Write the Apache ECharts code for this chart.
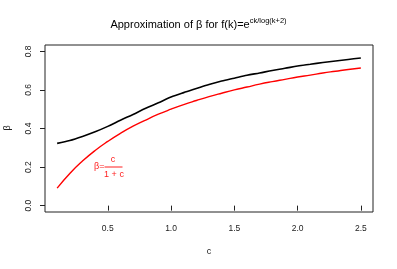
<!DOCTYPE html>
<html><head><meta charset="utf-8">
<script src="https://cdn.jsdelivr.net/npm/echarts@6/dist/echarts.min.js"></script>
<style>html,body{margin:0;padding:0;background:#fff}#c{width:397px;height:269px}</style>
</head><body><div id="c"></div>
<script>
const cValues = [0.1,0.2,0.3,0.4,0.5,0.6,0.7,0.8,0.9,1.0,1.1,1.2,1.3,1.4,1.5,1.6,1.7,1.8,1.9,2.0,2.1,2.2,2.3,2.4,2.5];
const betaSim = [0.323,0.338,0.359,0.383,0.411,0.443,0.473,0.505,0.533,0.563,0.586,0.607,0.628,0.646,0.661,0.676,0.688,0.701,0.712,0.724,0.733,0.742,0.750,0.758,0.766];
const betaApprox = [0.091,0.167,0.231,0.286,0.333,0.375,0.412,0.444,0.474,0.500,0.524,0.545,0.565,0.583,0.600,0.615,0.630,0.643,0.655,0.667,0.677,0.688,0.697,0.706,0.714];
const xTicks = [0.5,1.0,1.5,2.0,2.5];
const yTicks = [0.0,0.2,0.4,0.6,0.8];

const FONT = '"Liberation Sans", Arial, sans-serif';
const chart = echarts.init(document.getElementById('c'), null, {renderer:'canvas'});
const pair = (xs, ys) => xs.map((x,i)=>[x, ys[i]]);
chart.setOption({
  animation:false,
  backgroundColor:'#fff',
  title:{
    text:'{a|Approximation of β for f(k)=e}{s|ck/log(k+2)}',
    left:'center', top:10,
    textStyle:{
      fontWeight:'normal',
      rich:{
        a:{fontFamily:FONT, fontSize:11, fontWeight:'normal', color:'#000', verticalAlign:'bottom', lineHeight:15},
        s:{fontFamily:FONT, fontSize:7.5, fontWeight:'normal', color:'#000', verticalAlign:'bottom', lineHeight:15, padding:[0,0,5,0]}
      }
    }
  },
  grid:{left:45, top:45, width:328, height:167, show:true, borderColor:'#222', borderWidth:1, containLabel:false},
  xAxis:{
    type:'value', min:0.004, max:2.596,
    name:'c', nameLocation:'middle', nameGap:35,
    nameTextStyle:{fontFamily:FONT, fontSize:9, color:'#222'},
    axisLine:{show:false},
    splitLine:{show:false},
    axisTick:{show:true, length:5, inside:false, customValues:xTicks, lineStyle:{color:'#222'}},
    axisLabel:{customValues:xTicks, fontFamily:FONT, fontSize:8.5, color:'#222', margin:12,
      formatter:v=>v.toFixed(1)}
  },
  yAxis:{
    type:'value', min:-0.033, max:0.833,
    axisLine:{show:false},
    splitLine:{show:false},
    axisTick:{show:true, length:5, customValues:yTicks, lineStyle:{color:'#222'}},
    axisLabel:{customValues:yTicks, rotate:90, fontFamily:FONT, fontSize:8.5, color:'#222', margin:12,
      formatter:v=>v.toFixed(1)}
  },
  series:[
    {type:'line', data:pair(cValues, betaSim), showSymbol:false, smooth:0.3,
     lineStyle:{color:'#000', width:1.6}},
    {type:'line', data:pair(cValues, betaApprox), showSymbol:false, smooth:true,
     lineStyle:{color:'#ff0000', width:1.4}}
  ],
  graphic:[
    {type:'text', x:8, y:128, rotation:Math.PI/2, style:{text:'β', fill:'#222', font:'9px '+FONT, textAlign:'center', textVerticalAlign:'middle'}},
    {type:'text', x:94, y:167, style:{text:'β=', fill:'#ff2020', font:'9px '+FONT, textAlign:'left', textVerticalAlign:'middle'}},
    {type:'line', shape:{x1:104.5, y1:167, x2:122.5, y2:167}, style:{stroke:'#ff2020', lineWidth:1}},
    {type:'text', x:113, y:159.5, style:{text:'c', fill:'#ff2020', font:'9px '+FONT, textAlign:'center', textVerticalAlign:'middle'}},
    {type:'text', x:114, y:174.5, style:{text:'1 + c', fill:'#ff2020', font:'9px '+FONT, textAlign:'center', textVerticalAlign:'middle'}}
  ]
});
</script></body></html>
